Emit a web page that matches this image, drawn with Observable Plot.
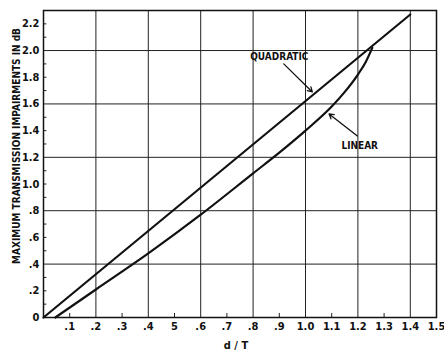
<!DOCTYPE html>
<html>
<head>
<meta charset="utf-8">
<script src="https://cdn.jsdelivr.net/npm/d3@7"></script>
<script src="https://cdn.jsdelivr.net/npm/@observablehq/plot@0.6"></script>
<style>
  html, body { margin: 0; padding: 0; background: #fff; }
  #chart svg { display: block; }
</style>
</head>
<body>
<div id="chart"></div>
<script>
// Upper straight curve (labelled QUADRATIC)
const quadX = [0, 1.4];
const quadY = [0, 2.27];
// Lower curve (labelled LINEAR)
const linX = [0.045, 0.2, 0.4, 0.6, 0.8, 0.9, 1.0, 1.1, 1.15, 1.2, 1.23, 1.255];
const linY = [0, 0.21, 0.48, 0.77, 1.08, 1.235, 1.40, 1.58, 1.69, 1.82, 1.915, 2.02];

const xTicks = [0.1, 0.2, 0.3, 0.4, 0.5, 0.6, 0.7, 0.8, 0.9, 1.0, 1.1, 1.2, 1.3, 1.4, 1.5];
const xTickLabels = [".1", ".2", ".3", ".4", "5", ".6", ".7", ".8", ".9", "1.0", "1.1", "1.2", "1.3", "1.4", "1.5"];
const yTicks = [0, 0.2, 0.4, 0.6, 0.8, 1.0, 1.2, 1.4, 1.6, 1.8, 2.0, 2.2];
const yTickLabels = ["0", ".2", ".4", ".6", ".8", "1.0", "1.2", "1.4", "1.6", "1.8", "2.0", "2.2"];
const gridX = [0.2, 0.4, 0.6, 0.8, 1.0, 1.2, 1.4];
const gridY = [0.4, 0.8, 1.2, 1.6, 2.0];
const minorX = [0.1, 0.3, 0.5, 0.7, 0.9, 1.1, 1.3];
const minorY = [0.1, 0.2, 0.3, 0.5, 0.6, 0.7, 0.9, 1.0, 1.1, 1.3, 1.4, 1.5, 1.7, 1.8, 1.9, 2.1, 2.2];

const xLabelTitle = "d / T";
const yLabelTitle = "MAXIMUM TRANSMISSION IMPAIRMENTS IN dB";

const annotations = [
  {text: "QUADRATIC", x: 0.9, y: 1.955},
  {text: "LINEAR", x: 1.207, y: 1.285}
];
const pointers = [
  {x1: 0.917, y1: 1.90, x2: 1.026, y2: 1.69},
  {x1: 1.198, y1: 1.36, x2: 1.09, y2: 1.525}
];

const quad = quadX.map((x, i) => ({x, y: quadY[i]}));
const lin = linX.map((x, i) => ({x, y: linY[i]}));
const xLab = new Map(xTicks.map((t, i) => [t.toFixed(1), xTickLabels[i]]));
const yLab = new Map(yTicks.map((t, i) => [t.toFixed(1), yTickLabels[i]]));

const font = "'Liberation Sans Narrow', 'DejaVu Sans Condensed', 'Arial Narrow', sans-serif";

const chart = Plot.plot({
  width: 444,
  height: 354,
  marginLeft: 43,
  marginRight: 8,
  marginTop: 10,
  marginBottom: 37,
  style: {fontFamily: font, fontSize: "11px", fontWeight: "bold", color: "#111", background: "#fff"},
  x: {domain: [0, 1.5], ticks: xTicks, tickFormat: d => xLab.get(d.toFixed(1)), tickSize: 0, tickPadding: 5, label: null},
  y: {domain: [0, 2.3], ticks: yTicks, tickFormat: d => yLab.get(d.toFixed(1)), tickSize: 0, tickPadding: 4, label: null},
  marks: [
    Plot.ruleX(gridX, {stroke: "#222", strokeWidth: 1}),
    Plot.ruleY(gridY, {stroke: "#222", strokeWidth: 1}),
    Plot.ruleY(minorY, {x1: 0, x2: 0.013, stroke: "#222", strokeWidth: 1}),
    Plot.ruleX(minorX, {y1: 0, y2: 0.03, stroke: "#222", strokeWidth: 1}),
    Plot.line(quad, {x: "x", y: "y", stroke: "#111", strokeWidth: 2.2}),
    Plot.line(lin, {x: "x", y: "y", stroke: "#111", strokeWidth: 2.2, curve: "monotone-x"}),
    Plot.frame({stroke: "#111", strokeWidth: 1.5}),
    Plot.arrow(pointers, {x1: "x1", y1: "y1", x2: "x2", y2: "y2", stroke: "#111", strokeWidth: 1.3, headLength: 6}),
    Plot.text(annotations, {x: "x", y: "y", text: "text", fontSize: 10, fontWeight: "bold", fill: "#111"}),
    Plot.text([yLabelTitle], {frameAnchor: "left", textAnchor: "middle", dx: -27, dy: -18, rotate: -90, fontSize: 10, fontWeight: "bold", fill: "#111"}),
    Plot.text([xLabelTitle], {frameAnchor: "bottom", textAnchor: "middle", dx: -4, dy: 28, lineAnchor: "middle", fontSize: 11, fontWeight: "bold", fill: "#111"})
  ]
});
document.getElementById("chart").appendChild(chart);
</script>
</body>
</html>
